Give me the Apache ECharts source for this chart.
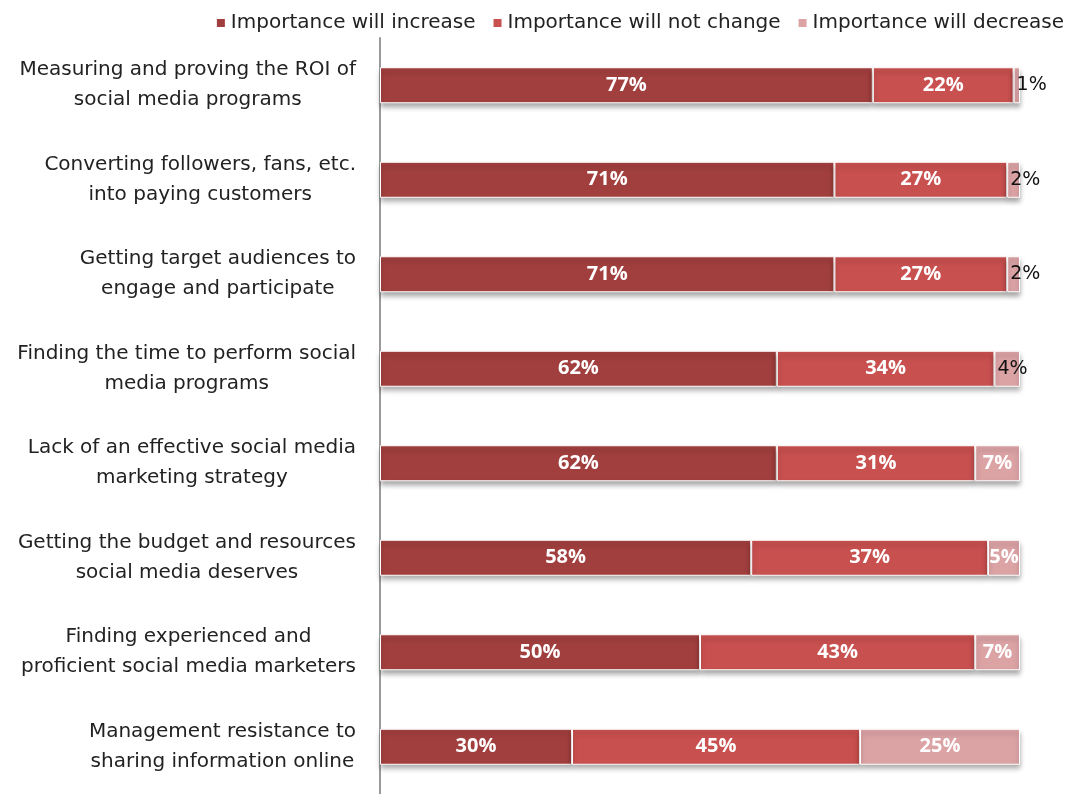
<!DOCTYPE html>
<html>
<head>
<meta charset="utf-8">
<script src="https://cdn.jsdelivr.net/npm/echarts@6/dist/echarts.min.js"></script>
<style>
  html, body { margin: 0; padding: 0; background: #fff; }
  #chart { width: 1071px; height: 794px; }
</style>
</head>
<body>
<div id="chart"></div>
<script>
// Survey: how the importance of each social media challenge will change
const categories = [
  'Measuring and proving the ROI of\nsocial media programs',
  'Converting followers, fans, etc.\ninto paying customers',
  'Getting target audiences to\nengage and participate',
  'Finding the time to perform social\nmedia programs',
  'Lack of an effective social media\nmarketing strategy',
  'Getting the budget and resources\nsocial media deserves',
  'Finding experienced and\nproficient social media marketers',
  'Management resistance to\nsharing information online'
];
const seriesNames = ['Importance will increase', 'Importance will not change', 'Importance will decrease'];
const willIncrease = [77, 71, 71, 62, 62, 58, 50, 30];
const willNotChange = [22, 27, 27, 34, 31, 37, 43, 45];
const willDecrease = [1, 2, 2, 4, 7, 5, 7, 25];
const colors = ['#A13F3E', '#C8504F', '#DCA3A5'];

const FONT = '"DejaVu Sans", sans-serif';
const BAR_FONT = '"Open Sans", sans-serif';

// Small segments get their label in dark text, starting at the segment's left edge
function toItems(values) {
  return values.map(v => v < 5
    ? { value: v, label: { position: 'insideLeft', distance: 3, color: '#111', fontWeight: 'normal', fontFamily: FONT, fontSize: 19 } }
    : v);
}

const valueLists = [willIncrease, willNotChange, willDecrease];

const series = valueLists.map((vals, i) => ({
  name: seriesNames[i],
  type: 'bar',
  stack: 'total',
  barWidth: 36,
  data: toItems(vals),
  itemStyle: {
    color: colors[i],
    borderColor: '#fff',
    borderWidth: 1,
    shadowColor: 'rgba(0,0,0,0.35)',
    shadowBlur: 5,
    shadowOffsetY: 4
  },
  label: {
    show: true,
    position: 'inside',
    formatter: '{c}%',
    color: '#fff',
    fontWeight: 'bold',
    fontFamily: BAR_FONT,
    fontSize: 20
  }
}));

const chart = echarts.init(document.getElementById('chart'), null, { renderer: 'canvas' });
chart.setOption({
  animation: false,
  backgroundColor: '#fff',
  legend: {
    data: seriesNames,
    right: 2,
    top: 8,
    icon: 'rect',
    itemWidth: 10,
    itemHeight: 10,
    itemGap: 16,
    textStyle: { fontFamily: FONT, fontSize: 20, color: '#222' }
  },
  grid: { left: 380, right: 51, top: 38, height: 762 },
  xAxis: {
    type: 'value',
    min: 0,
    max: 100,
    show: false
  },
  yAxis: {
    type: 'category',
    inverse: true,
    data: categories,
    axisLine: { show: true, lineStyle: { color: '#9a9a9a', width: 2 } },
    axisTick: { show: false },
    axisLabel: {
      margin: 24,
      align: 'right',
      formatter: v => v.split('\n').map(s => '{c|' + s + '}').join('\n'),
      rich: {
        c: { align: 'center', fontFamily: FONT, fontSize: 20, lineHeight: 30, color: '#222' }
      }
    }
  },
  series: series
});
</script>
</body>
</html>
